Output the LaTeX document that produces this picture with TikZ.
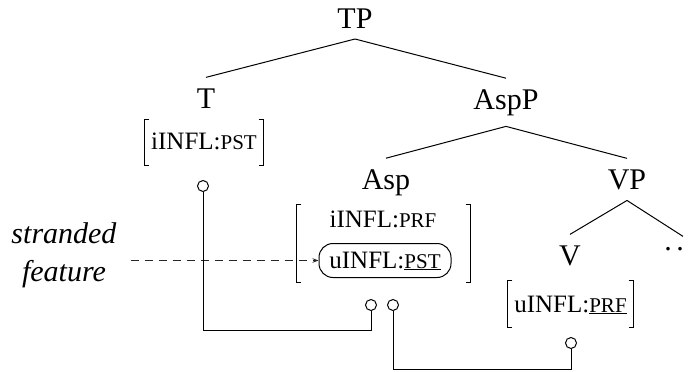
\documentclass[tikz,border=0pt]{standalone}
\usepackage{fontspec}
\setmainfont{Liberation Serif}
\usetikzlibrary{arrows.meta,calc}
\newcommand\featbrk[1]{%
  \draw[brk] ([xshift=4.5pt]#1.north west) -- (#1.north west) -- (#1.south west) -- ([xshift=4.5pt]#1.south west);
  \draw[brk] ([xshift=-4.5pt]#1.north east) -- (#1.north east) -- (#1.south east) -- ([xshift=-4.5pt]#1.south east);}
\newcommand\sck[1]{{\fontsize{21}{24}\selectfont #1}}
\begin{document}
\begin{tikzpicture}[x=1pt,y=-1pt,
  treelab/.style={font=\fontsize{30}{36}\selectfont, inner sep=0pt, outer sep=11pt, anchor=base},
  feat/.style={font=\fontsize{25}{30}\selectfont, inner xsep=0pt, inner ysep=0pt, text height=29pt, text depth=16pt, anchor=base},
  brk/.style={line width=1.2pt},
  edge/.style={line width=1pt},
  conn/.style={line width=1pt},
  dot/.style={circle, draw, line width=1pt, minimum size=11pt, inner sep=0pt},
  lab/.style={font=\itshape\fontsize{30}{38}\selectfont, inner sep=0pt, outer xsep=14pt, anchor=base},
  pill/.style={draw, line width=1pt, rounded corners=14pt, font=\fontsize{25}{30}\selectfont, minimum width=132pt, text height=17pt, text depth=2pt, inner ysep=7.5pt, inner xsep=0pt}
]
\useasboundingbox (0,0) rectangle (691,372);

% tree labels
\node[treelab] (TP) at (355,28) {TP};
\node[treelab] (T) at (206,108) {T};
\node[treelab] (AspP) at (506,109) {AspP};
\node[treelab] (Asp) at (386,189) {Asp};
\node[treelab] (VP) at (627,189) {VP};
\node[treelab] (V) at (570,265) {V};
\node[treelab, inner sep=0pt] (dots) at (674,250.5) {.\hspace{4.5pt}.};

% tree edges
\draw[edge] (TP.south) -- (T.north);
\draw[edge] (TP.south) -- (AspP.north);
\draw[edge] (AspP.south) -- (Asp.north);
\draw[edge] (AspP.south) -- (VP.north);
\draw[edge] (VP.south) -- (V.north);
\draw[edge] (VP.south) -- ([xshift=9pt]dots.north);

% feature bundles
\node[feat, minimum width=118pt] (Tf) at (204,149) {iINFL:\sck{PST}};
\featbrk{Tf}
\node[minimum width=173pt, minimum height=77pt, inner sep=0pt] (Af) at (383.5,243.5) {};
\featbrk{Af}
\node[font=\fontsize{25}{30}\selectfont, anchor=base, inner sep=0pt] (Af1) at (383,227) {iINFL:\sck{PRF}};
\node[pill] (Af2) at (385,260.5) {uINFL:\underline{\sck{PST}}};
\node[feat, minimum width=125pt, text height=31pt, text depth=15pt] (Vf) at (570.5,312) {uINFL:\underline{\sck{PRF}}};
\featbrk{Vf}

% stranded feature label
\node[lab] (strand) at (64,243) {stranded};
\node[lab] (feature) at (64,281) {feature};
\draw[line width=0.9pt, black!85, dash pattern=on 8pt off 6pt, -{Stealth[length=6pt,width=4.5pt]}] (strand.east |- Af2.west) -- (Af2.west);

% agreement circles and connectors
\node[dot] (c1) at (203,186) {};
\node[dot] (c2) at (371,305) {};
\node[dot] (c3) at (393,305) {};
\node[dot] (c4) at (571,343) {};
\draw[conn] (c1.south) |- ($(c2.south)+(0,19.5)$) -- (c2.south);
\draw[conn] (c3.south) |- ($(c4.south)+(0,20)$) -- (c4.south);
\end{tikzpicture}
\end{document}
